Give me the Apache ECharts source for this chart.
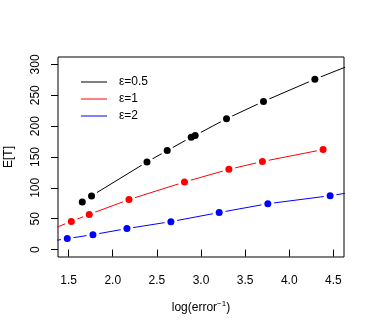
<!DOCTYPE html>
<html><head><meta charset="utf-8">
<script src="https://cdn.jsdelivr.net/npm/echarts@6/dist/echarts.min.js"></script>
<style>html,body{margin:0;padding:0;background:#fff}#c{width:374px;height:330px}</style>
</head><body><div id="c"></div>
<script>
// ---- data ----
const seriesNames = ['ε=0.5', 'ε=1', 'ε=2'];
const blackX = [1.655, 1.760, 2.388, 2.617, 2.889, 2.934, 3.289, 3.708, 4.290, 4.80];
const blackY = [77, 87, 142, 160.5, 182, 185, 212, 240, 276, 305];
const redX = [1.30, 1.531, 1.734, 2.184, 2.813, 3.316, 3.696, 4.383];
const redY = [32.4, 45.7, 57, 81, 109.5, 130, 142.7, 162];
const blueX = [1.30, 1.485, 1.776, 2.161, 2.659, 3.206, 3.757, 4.463, 4.80];
const blueY = [13.7, 17.8, 24.2, 34, 45.3, 60, 74.3, 87.3, 95];
const xTicks = [1.5, 2.0, 2.5, 3.0, 3.5, 4.0, 4.5];
const yTicks = [0, 50, 100, 150, 200, 250, 300];
const xTitle = 'log(error';
const xTitleSup = '−1';
const yTitle = 'E[T]';

// ---- build ----
const colors = ['#000000', '#ff0000', '#0000ff'];
const groups = [[blackX, blackY], [redX, redY], [blueX, blueY]];
const font = "'Liberation Sans', Arial, sans-serif";
const pairs = g => g[0].map((x, i) => [x, g[1][i]]);

const series = [];
groups.forEach((g, i) => {
  const data = pairs(g);
  series.push({
    name: seriesNames[i], type: 'line', data: data, showSymbol: false, symbol: 'none',
    lineStyle: { color: colors[i], width: 1 }, itemStyle: { color: colors[i] },
    z: 2, clip: true, silent: true, animation: false
  });
  series.push({
    name: 'halo' + i, type: 'scatter', data: data, symbol: 'circle', symbolSize: 13,
    itemStyle: { color: '#ffffff', opacity: 1 }, z: 3, clip: true, silent: true, animation: false
  });
  series.push({
    name: 'pt' + i, type: 'scatter', data: data, symbol: 'circle', symbolSize: 7,
    itemStyle: { color: colors[i], opacity: 1 }, z: 4, clip: true, silent: true, animation: false
  });
});

const chart = echarts.init(document.getElementById('c'), null, { renderer: 'canvas' });
chart.setOption({
  animation: false,
  backgroundColor: '#ffffff',
  textStyle: { fontFamily: font },
  grid: { left: 58, right: 30, top: 57, bottom: 73, show: true, borderColor: '#000', borderWidth: 1,
          backgroundColor: 'transparent', containLabel: false, outerBoundsMode: 'none' },
  legend: {
    data: seriesNames.map((n, i) => ({ name: n, icon: 'rect', itemStyle: { color: colors[i] } })),
    orient: 'vertical', left: 81, top: 76, padding: 0,
    itemWidth: 26, itemHeight: 1, itemGap: 5,
    textStyle: { fontFamily: font, fontSize: 12, color: '#000', padding: [0, 0, 0, 7] },
    selectedMode: false
  },
  xAxis: {
    type: 'value', min: 1.38, max: 4.62,
    name: '{a|' + xTitle + '}{s|' + xTitleSup + '}{a|)}', nameLocation: 'middle', nameGap: 43,
    nameTextStyle: {
      rich: {
        a: { fontFamily: font, fontSize: 12, color: '#000' },
        s: { fontFamily: font, fontSize: 8, color: '#000', padding: [0, 0, 7, 0] }
      }
    },
    axisLine: { show: false },
    axisTick: { show: true, customValues: xTicks, length: 7, lineStyle: { color: '#000' } },
    axisLabel: { customValues: xTicks, formatter: v => v.toFixed(1), margin: 18, fontSize: 12, color: '#000', fontFamily: font },
    splitLine: { show: false }
  },
  yAxis: {
    type: 'value', min: -12, max: 312,
    name: yTitle, nameLocation: 'middle', nameGap: 43, nameRotate: 90,
    nameTextStyle: { fontFamily: font, fontSize: 12, color: '#000' },
    axisLine: { show: false },
    axisTick: { show: true, customValues: yTicks, length: 7, lineStyle: { color: '#000' } },
    axisLabel: { customValues: yTicks, rotate: 90, margin: 16, fontSize: 12, color: '#000', fontFamily: font },
    splitLine: { show: false }
  },
  series: series
});
</script>
</body></html>
